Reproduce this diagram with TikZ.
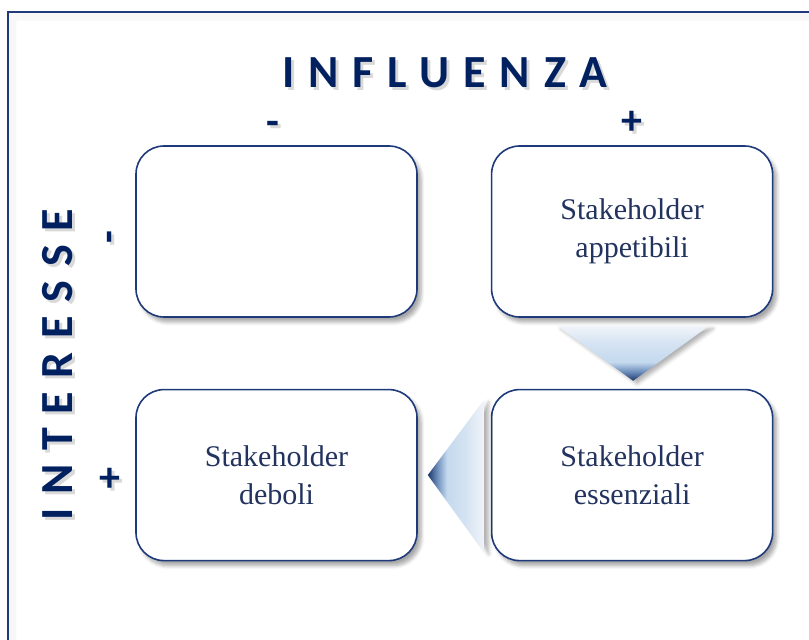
\documentclass[tikz,border=0pt]{standalone}
\usepackage{fontspec}
\setmainfont{Liberation Serif}
\newfontfamily\headfont{Carlito}
\usepackage{xcolor}
\usepackage{tikz}
\usetikzlibrary{positioning,calc,shadows,shadows.blur}

\definecolor{navy}{HTML}{002060}
\definecolor{framecol}{HTML}{1F3A7A}
\definecolor{boxtext}{HTML}{23335F}
\definecolor{palearrow}{HTML}{F1F4F9}
\definecolor{lightarrow}{HTML}{C4D9EE}
\definecolor{midarrow}{HTML}{6A8BBA}
\definecolor{darkarrow}{HTML}{1D3768}

\pgfdeclareverticalshading{frecciagiu}{100bp}{color(0bp)=(darkarrow); color(25bp)=(darkarrow); color(33bp)=(midarrow); color(42bp)=(lightarrow); color(60bp)=(lightarrow!60!palearrow); color(75bp)=(palearrow); color(100bp)=(palearrow)}
\pgfdeclarehorizontalshading{frecciasx}{100bp}{color(0bp)=(darkarrow); color(25bp)=(darkarrow); color(33bp)=(midarrow); color(42bp)=(lightarrow); color(60bp)=(lightarrow!60!palearrow); color(75bp)=(palearrow); color(100bp)=(palearrow)}

\begin{document}
\begin{tikzpicture}
		[x=0.5pt,y=-0.5pt,node distance=36.5pt,
		quad/.style={draw=framecol,line width=0.8pt,fill=white,rounded corners=14pt,
			minimum width=140.5pt,minimum height=85.5pt,align=center,text=boxtext,
			font=\fontsize{15}{19}\selectfont,
			blur shadow={shadow xshift=2pt,shadow yshift=-2.5pt,shadow blur steps=6,shadow opacity=35}},
		titolo/.style={font=\headfont\bfseries\fontsize{23}{23}\selectfont\addfontfeature{LetterSpace=30},inner sep=0pt},
		segno/.style={font=\headfont\bfseries\fontsize{21}{21}\selectfont,inner sep=0pt}]
		\useasboundingbox (0,0) rectangle (809,640);
		\clip (0,0) rectangle (809,640);
		% cornice
		\foreach \i in {1,...,8}
			\draw[black,opacity=0.015,line width=1pt] (8+\i,660) -- (8+\i,12+\i) -- (830,12+\i);
		\draw[framecol,line width=1pt] (8,660) -- (8,12) -- (830,12);
		% quadranti
		\node[quad] (vuoto) at (276.5,231.5) {};
		\node[quad,right=of vuoto] (app) {Stakeholder\\appetibili};
		\node[quad,below=35.5pt of vuoto] (deb) {Stakeholder\\deboli};
		\node[quad,below=35.5pt of app] (ess) {Stakeholder\\essenziali};
		% frecce
		\path[shading=frecciagiu,blur shadow={shadow xshift=2pt,shadow yshift=-1.5pt,shadow opacity=30}]
			($(app.south)+(-75,8)$) -- ($(app.south)+(77,8)$) -- ($(ess.north)+(1,-8)$) -- cycle;
		\path[shading=frecciasx,blur shadow={shadow xshift=2.5pt,shadow yshift=-1pt,shadow opacity=30}]
			($(ess.west)+(-7,-75)$) -- ($(ess.west)+(-7,77)$) -- ($(deb.east)+(10,0)$) -- cycle;
		% assi
		\foreach \dx/\col/\op in {3/gray/0.3, 0/navy/1} {
			\node[titolo,text=\col,opacity=\op] (infl) at (445+\dx,73+\dx) {INFLUENZA};
			\node[titolo,text=\col,opacity=\op,rotate=90] (inter) at (58+\dx,365+\dx) {INTERESSE};
			\node[segno,text=\col,opacity=\op] (infmeno) at (273+\dx,128+\dx) {-};
			\node[segno,text=\col,opacity=\op] (infpiu) at (632+\dx,123+\dx) {+};
			\node[segno,text=\col,opacity=\op,rotate=90] (intmeno) at (114+\dx,237+\dx) {-};
			\node[segno,text=\col,opacity=\op] (intpiu) at (110+\dx,480+\dx) {+};
		}
\end{tikzpicture}
\end{document}
